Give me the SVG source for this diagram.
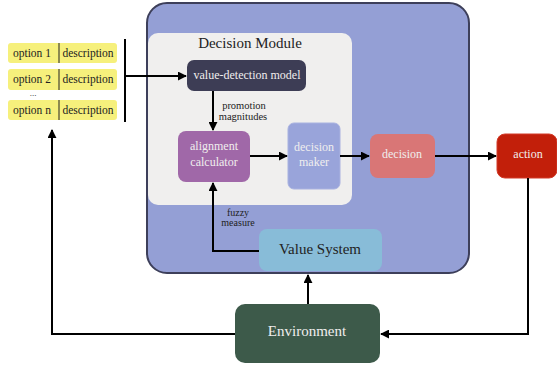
<svg xmlns="http://www.w3.org/2000/svg" width="557" height="365" viewBox="0 0 557 365" font-family="Liberation Serif, Times New Roman, serif">
<defs>
<marker id="ah" viewBox="0 0 10 10" refX="9" refY="5" markerWidth="4.5" markerHeight="4.5" orient="auto" markerUnits="strokeWidth"><path d="M0,0 L10,5 L0,10 z" fill="#000"/></marker>
</defs>
<style>
text{text-anchor:middle}
.lt{fill:#f0eeee;font-size:12px}
.sm{fill:#222;font-size:10.5px}
.opt{fill:#f6f07c}
.ot{fill:#222;font-size:11.5px}
.c{fill:none;stroke:#000;stroke-width:2}
.big{font-size:15px}
</style>
<g id="agent"><rect x="147" y="3" width="322" height="270" rx="20" fill="#949fd5" stroke="#3d3f5a" stroke-width="2"/></g>
<g id="decision-module"><rect x="148" y="33" width="204" height="172" rx="10" fill="#f0efee"/><text class="big" x="250" y="48" fill="#222">Decision Module</text></g>
<g id="options">
<rect class="opt" x="8" y="43" width="109" height="20" rx="3"/><line x1="59" y1="43" x2="59" y2="63" stroke="#222"/>
<text class="ot" x="32" y="57">option 1</text><text class="ot" x="88" y="57">description</text>
<rect class="opt" x="8" y="69" width="109" height="21" rx="3"/><line x1="59" y1="69" x2="59" y2="90" stroke="#222"/>
<text class="ot" x="32" y="83">option 2</text><text class="ot" x="88" y="83">description</text>
<text class="ot" x="33" y="96" style="font-size:9px">...</text>
<rect class="opt" x="8" y="100" width="109" height="20" rx="3"/><line x1="59" y1="100" x2="59" y2="120" stroke="#222"/>
<text class="ot" x="32" y="114">option n</text><text class="ot" x="88" y="114">description</text>
</g>
<g id="value-detection"><rect x="187" y="60" width="119" height="31" rx="7" fill="#3d3d55"/><text class="lt" x="247" y="79">value-detection model</text></g>
<g id="alignment"><rect x="178" y="131" width="72" height="51" rx="8" fill="#a068a8"/><text class="lt" x="214" y="150">alignment</text><text class="lt" x="214" y="166">calculator</text></g>
<g id="decision-maker"><rect x="288" y="123" width="52" height="66" rx="6" fill="#99a4da" stroke="#a9b2e0"/><text class="lt" x="314" y="151">decision</text><text class="lt" x="314" y="166">maker</text></g>
<g id="decision"><rect x="370" y="134" width="65" height="44" rx="8" fill="#d97676"/><text class="lt" x="402" y="158">decision</text></g>
<g id="action"><rect x="497" y="134" width="60" height="44" rx="8" fill="#c21f0a" stroke="#d23a28"/><text class="lt" x="528" y="158">action</text></g>
<g id="value-system"><rect x="259" y="229" width="123" height="42" rx="8" fill="#88bcd8"/><text class="big" x="320" y="254" fill="#222">Value System</text></g>
<g id="environment"><rect x="235" y="304" width="145" height="59" rx="10" fill="#3d5a4a"/><text class="big" x="307" y="336" fill="#f0eeee">Environment</text></g>
<g id="connectors">
<line class="c" x1="125" y1="39" x2="125" y2="122"/>
<line class="c" x1="125" y1="76" x2="186" y2="76" marker-end="url(#ah)"/>
<line class="c" x1="213" y1="91" x2="213" y2="130" marker-end="url(#ah)"/>
<text class="sm" x="244" y="109">promotion</text><text class="sm" x="243" y="120">magnitudes</text>
<line class="c" x1="250" y1="156" x2="287" y2="156" marker-end="url(#ah)"/>
<line class="c" x1="340" y1="156" x2="369" y2="156" marker-end="url(#ah)"/>
<line class="c" x1="435" y1="156" x2="496" y2="156" marker-end="url(#ah)"/>
<polyline class="c" points="259,251 213,251 213,183" marker-end="url(#ah)"/>
<text class="sm" x="238" y="216" style="font-size:10px">fuzzy</text><text class="sm" x="238" y="226" style="font-size:10px">measure</text>
<line class="c" x1="308" y1="304" x2="308" y2="275" marker-end="url(#ah)"/>
<polyline class="c" points="528,178 528,334 381,334" marker-end="url(#ah)"/>
<polyline class="c" points="235,334 52,334 52,130" marker-end="url(#ah)"/>
</g>
</svg>
